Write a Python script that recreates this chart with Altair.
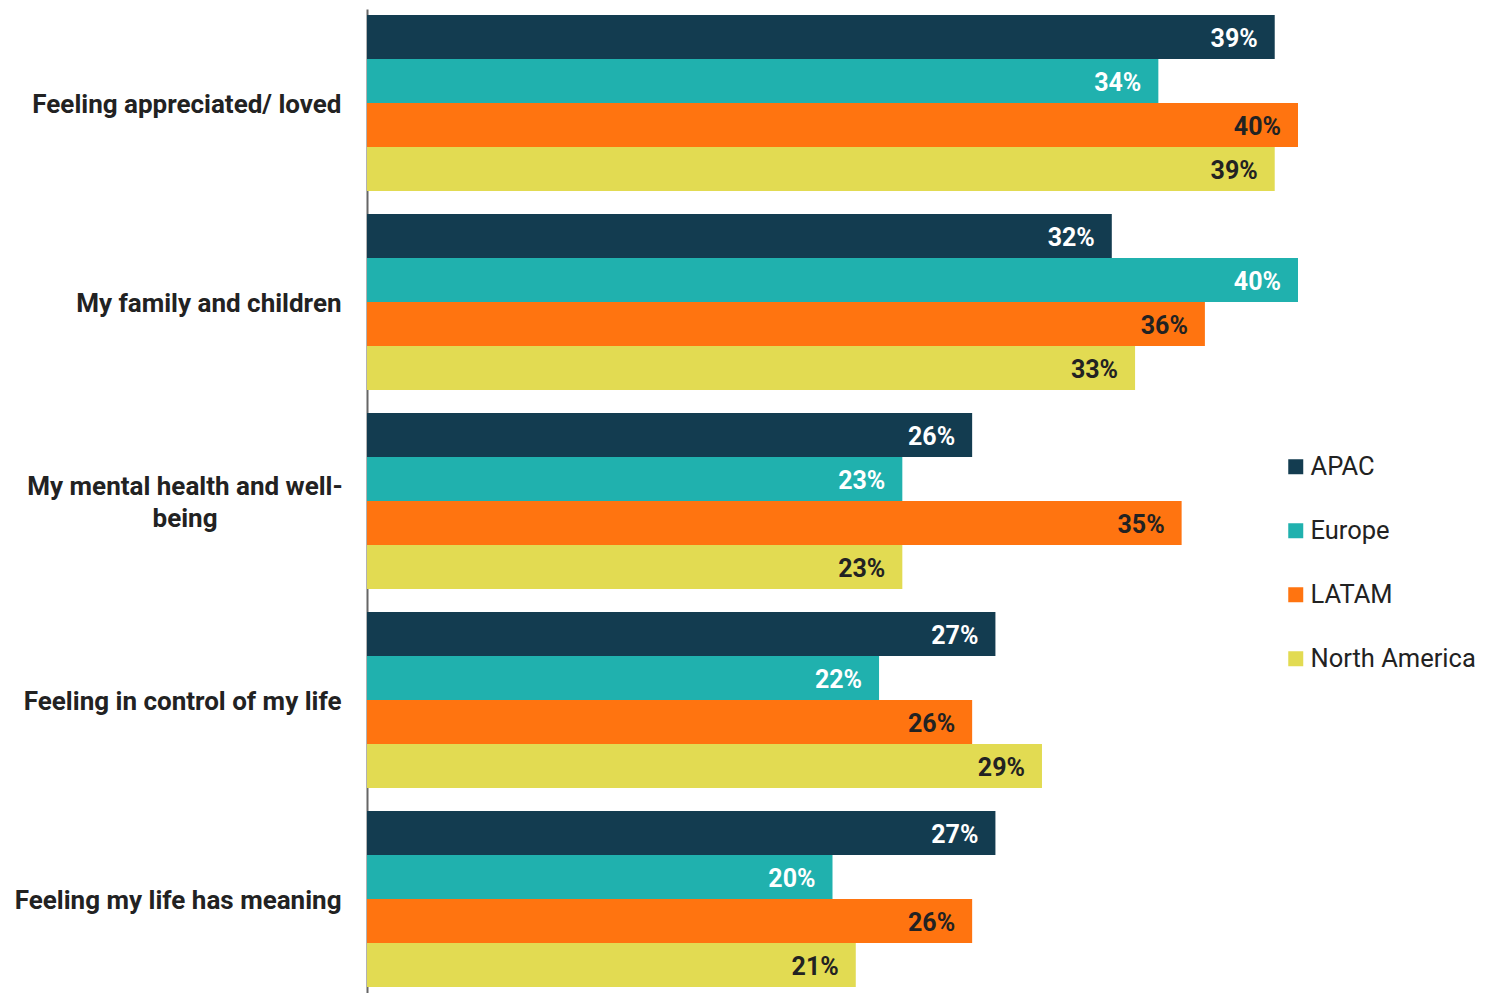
import altair as alt
import pandas as pd

categories = [
    "Feeling appreciated/ loved",
    "My family and children",
    "My mental health and well-being",
    "Feeling in control of my life",
    "Feeling my life has meaning",
]
regions = ["APAC", "Europe", "LATAM", "North America"]
apac = [39, 32, 26, 27, 27]
europe = [34, 40, 23, 22, 20]
latam = [40, 36, 35, 26, 26]
north_america = [39, 33, 23, 29, 21]
colors = ["#133C50", "#20B1AE", "#FF7410", "#E2DB52"]

series = {"APAC": apac, "Europe": europe, "LATAM": latam, "North America": north_america}
rows = []
for r in regions:
    for c, v in zip(categories, series[r]):
        rows.append({"category": c, "region": r, "value": v, "label": f"{v}%"})
df = pd.DataFrame(rows)

FONT = "Roboto"
WRAPPED = "My mental health and well-being"

y = alt.Y(
    "category:N",
    sort=categories,
    scale=alt.Scale(paddingInner=23 / 199, paddingOuter=0.03),
    axis=alt.Axis(
        title=None,
        ticks=False,
        grid=False,
        domain=True,
        domainColor="#666666",
        domainWidth=2,
        labelFont=FONT,
        labelFontWeight="bold",
        labelFontSize=26,
        labelColor="#222222",
        labelPadding=26,
        labelOffset=2,
        labelLimit=0,
        labelExpr=f"datum.value == '{WRAPPED}' ? '' : datum.value",
    ),
)
yoff = alt.YOffset("region:N", sort=regions, scale=alt.Scale(paddingInner=0, paddingOuter=0))
x = alt.X("value:Q", scale=alt.Scale(domain=[0, 40]), axis=None)

bars = alt.Chart(df).mark_bar().encode(
    y=y,
    yOffset=yoff,
    x=x,
    color=alt.Color(
        "region:N",
        sort=regions,
        scale=alt.Scale(domain=regions, range=colors),
        legend=alt.Legend(
            title=None,
            orient="none",
            legendX=916,
            legendY=445,
            symbolType="square",
            symbolSize=225,
            symbolStrokeWidth=0,
            labelFont=FONT,
            labelFontSize=25.5,
            labelColor="#222222",
            labelOffset=2,
            rowPadding=37,
            labelLimit=0,
        ),
    ),
)

texts = alt.Chart(df).mark_text(
    align="right", baseline="middle", dx=-17, dy=2, font=FONT, fontWeight="bold", fontSize=25
).encode(
    y=alt.Y("category:N", sort=categories),
    yOffset=alt.YOffset("region:N", sort=regions),
    x=alt.X("value:Q"),
    text="label:N",
    color=alt.condition(
        "datum.region == 'APAC' || datum.region == 'Europe'",
        alt.value("white"),
        alt.value("#222222"),
    ),
)

wrapped_label = (
    alt.Chart(df)
    .transform_filter(f"datum.region == 'APAC' && datum.category == '{WRAPPED}'")
    .transform_calculate(wrapped="replace(datum.category, 'well-', 'well-\\n')")
    .mark_text(
        align="center",
        baseline="middle",
        lineBreak="\n",
        lineHeight=32,
        dy=-14,
        font=FONT,
        fontWeight="bold",
        fontSize=26,
        color="#222222",
    )
    .encode(
        y=alt.Y("category:N", sort=categories),
        x=alt.value(-182),
        text="wrapped:N",
    )
)

chart = (
    alt.layer(bars, texts, wrapped_label)
    .properties(
        width=931,
        height=984,
        autosize=alt.AutoSizeParams(type="none"),
        padding={"left": 367, "top": 9, "right": 211, "bottom": 0},
        background="white",
    )
    .configure_view(stroke=None)
)

chart.save("out.html", embed_options={"renderer": "svg", "actions": False})
